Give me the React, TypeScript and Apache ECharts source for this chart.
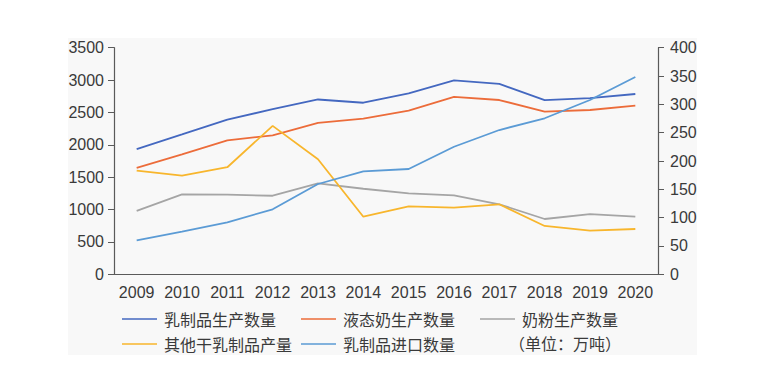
import React, { useEffect, useRef } from "react";
import * as echarts from "echarts";

const years = ["2009","2010","2011","2012","2013","2014","2015","2016","2017","2018","2019","2020"];
const dairyProduction = [1935, 2160, 2390, 2550, 2700, 2650, 2795, 2995, 2940, 2690, 2720, 2785];
const liquidMilk = [1645, 1853, 2068, 2147, 2340, 2404, 2527, 2742, 2692, 2512, 2538, 2604];
const milkPowder = [112, 141, 140.5, 138.7, 160.5, 151, 143, 139.4, 123.6, 97.6, 106.4, 101.7];
const otherDry = [183, 174, 189, 262, 203, 101.7, 120, 117.6, 123.6, 85.3, 77, 80];
const dairyImport = [60, 75.2, 91.8, 114.7, 159.4, 181.8, 185.9, 225.2, 254.7, 275.4, 307.7, 348.3];
const leftTicks = { min: 0, max: 3500, interval: 500 };
const rightTicks = { min: 0, max: 400, interval: 50 };

const names = ["乳制品生产数量", "液态奶生产数量", "奶粉生产数量", "其他干乳制品产量", "乳制品进口数量"];
const colors = ["#4468C0", "#EC6C3A", "#A5A5A5", "#F8B62D", "#5B9BD5"];
const unitLabel = "（单位：万吨）";

const FONT = "'Liberation Sans', 'Noto Sans CJK SC', sans-serif";
const CJK = "'Noto Sans CJK SC', 'Liberation Sans', sans-serif";
const TXT = "#3a3a3a";
const AX = "#5a5a5a";

export default function App() {
  const ref = useRef<HTMLDivElement>(null);
  useEffect(() => {
    if (!ref.current) return;
    const chart = echarts.init(ref.current, undefined, { renderer: "svg" });
    const legendPos = [
      { left: 122, top: 311 },
      { left: 301, top: 311 },
      { left: 480, top: 311 },
      { left: 122, top: 336 },
      { left: 301, top: 336 },
    ];
    const seriesData = [dairyProduction, liquidMilk, milkPowder, otherDry, dairyImport];
    const yIdx = [0, 0, 1, 1, 1];
    const numFmt = (v: number) => String(v);
    chart.setOption({
      animation: false,
      textStyle: { fontFamily: FONT },
      color: colors,
      graphic: [
        {
          type: "rect",
          z: -10,
          silent: true,
          shape: { x: 68, y: 38, width: 629, height: 317 },
          style: { fill: "#f8f8f8" },
        },
        {
          type: "text",
          left: 509,
          top: 335,
          style: { text: unitLabel, fontSize: 16, fontFamily: CJK, fill: TXT },
        },
      ],
      grid: { left: 114, right: 104, top: 47.7, bottom: 96.7, containLabel: false },
      legend: names.map((n, i) => ({
        data: [n],
        left: legendPos[i].left,
        top: legendPos[i].top,
        itemWidth: 35,
        itemHeight: 14,
        itemGap: 0,
        icon: "path://M0,6.5 L35,6.5 L35,8 L0,8 Z",
        textStyle: { fontSize: 16, fontFamily: CJK, color: TXT, padding: [0, 0, 0, 2] },
        padding: 0,
      })),
      xAxis: {
        type: "category",
        data: years,
        boundaryGap: true,
        axisLine: { lineStyle: { color: AX, width: 1.2 } },
        axisTick: { alignWithLabel: true, interval: 0, length: 6, lineStyle: { color: AX } },
        axisLabel: { interval: 0, color: TXT, fontSize: 16, margin: 10, fontFamily: FONT },
        splitLine: { show: false },
      },
      yAxis: [
        {
          type: "value",
          ...leftTicks,
          position: "left",
          axisLine: { show: true, lineStyle: { color: AX, width: 1.2 } },
          axisTick: { show: true, length: 6, lineStyle: { color: AX } },
          axisLabel: { color: TXT, fontSize: 16, margin: 10, fontFamily: FONT, formatter: numFmt },
          splitLine: { show: false },
        },
        {
          type: "value",
          ...rightTicks,
          position: "right",
          axisLine: { show: true, lineStyle: { color: AX, width: 1.2 } },
          axisTick: { show: true, length: 6, lineStyle: { color: AX } },
          axisLabel: { color: TXT, fontSize: 16, margin: 12, fontFamily: FONT, formatter: numFmt },
          splitLine: { show: false },
        },
      ],
      series: names.map((n, i) => ({
        name: n,
        type: "line",
        yAxisIndex: yIdx[i],
        data: seriesData[i],
        showSymbol: false,
        symbol: "none",
        lineStyle: { width: 1.8, color: colors[i] },
        itemStyle: { color: colors[i] },
      })),
    });
    return () => chart.dispose();
  }, []);
  return (
    <div
      ref={ref}
      style={{ position: "absolute", left: 0, top: 0, width: 762, height: 371, background: "#ffffff" }}
    />
  );
}
